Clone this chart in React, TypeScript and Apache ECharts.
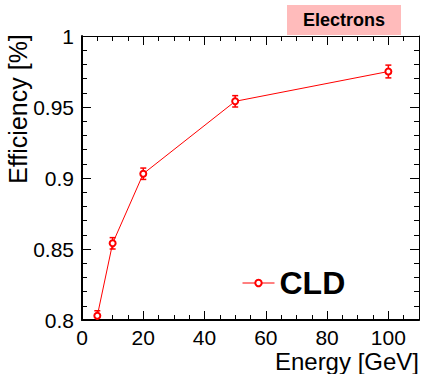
import React, { useEffect, useRef } from "react";
import * as echarts from "echarts";

const energies = [5, 10, 20, 50, 100];
const efficiency = [0.803, 0.854, 0.903, 0.954, 0.975];
const errors = [0.0035, 0.004, 0.004, 0.004, 0.0045];
const seriesName = "CLD";
const panelLabel = "Electrons";
const xTitle = "Energy [GeV]";
const yTitle = "Efficiency [%]";

const FONT = "'Liberation Sans', Arial, Helvetica, sans-serif";
const RED = "#ff0000";

export default function App() {
  const ref = useRef<HTMLDivElement>(null);
  useEffect(() => {
    if (!ref.current) return;
    const chart = echarts.init(ref.current, undefined, { renderer: "svg" });
    const pts = energies.map((e, i) => [e, efficiency[i]]);
    const errData = energies.map((e, i) => [e, efficiency[i], errors[i]]);
    const axisCommon = {
      type: "value" as const,
      splitLine: { show: false },
      axisLine: { show: true, onZero: false, lineStyle: { color: "#000", width: 2 } },
      axisTick: { show: true, inside: true, length: 9, lineStyle: { color: "#000", width: 1 } },
      minorTick: { show: true, length: 5, lineStyle: { color: "#000", width: 1 } },
    };
    chart.setOption({
      animation: false,
      backgroundColor: "#fff",
      grid: { left: 82, top: 36, right: 4, bottom: 54, containLabel: false },
      xAxis: [
        {
          ...axisCommon,
          position: "bottom",
          min: 0,
          max: 110,
          interval: 20,
          minorTick: { ...axisCommon.minorTick, splitNumber: 4 },
          axisLabel: {
            show: true,
            fontSize: 21,
            color: "#000",
            fontFamily: FONT,
            margin: 7,
            formatter: (v: number) => (v > 100 ? "" : String(v)),
          },
        },
        {
          ...axisCommon,
          position: "top",
          min: 0,
          max: 110,
          interval: 20,
          axisLine: { show: true, onZero: false, lineStyle: { color: "#000", width: 1 } },
          minorTick: { ...axisCommon.minorTick, splitNumber: 4 },
          axisLabel: { show: false },
        },
      ],
      yAxis: [
        {
          ...axisCommon,
          position: "left",
          min: 0.8,
          max: 1,
          interval: 0.05,
          minorTick: { ...axisCommon.minorTick, splitNumber: 5 },
          axisLabel: {
            show: true,
            fontSize: 21,
            color: "#000",
            fontFamily: FONT,
            margin: 8,
            formatter: (v: number) => String(parseFloat(v.toFixed(2))),
          },
        },
        {
          ...axisCommon,
          position: "right",
          min: 0.8,
          max: 1,
          interval: 0.05,
          axisLine: { show: true, onZero: false, lineStyle: { color: "#000", width: 1 } },
          minorTick: { ...axisCommon.minorTick, splitNumber: 5 },
          axisLabel: { show: false },
        },
      ],
      legend: {
        data: [seriesName],
        left: 237,
        top: 262,
        itemWidth: 32,
        itemHeight: 8,
        itemGap: 10,
        itemStyle: { borderWidth: 1, color: RED, borderColor: RED },
        lineStyle: { width: 1, color: RED },
        textStyle: { fontSize: 32, fontWeight: "bold", color: "#000", fontFamily: FONT },
      },
      series: [
        {
          type: "custom",
          name: "errors",
          xAxisIndex: 0,
          yAxisIndex: 0,
          clip: true,
          z: 2,
          data: errData,
          renderItem: (params: any, api: any) => {
            const x = api.value(0);
            const y = api.value(1);
            const e = api.value(2);
            const top = api.coord([x, y + e]);
            const bot = api.coord([x, y - e]);
            const cap = 3;
            const style = { stroke: RED, lineWidth: 1.5 };
            return {
              type: "group",
              children: [
                { type: "line", shape: { x1: top[0], y1: top[1], x2: bot[0], y2: bot[1] }, style },
                { type: "line", shape: { x1: top[0] - cap, y1: top[1], x2: top[0] + cap, y2: top[1] }, style },
                { type: "line", shape: { x1: bot[0] - cap, y1: bot[1], x2: bot[0] + cap, y2: bot[1] }, style },
              ],
            };
          },
        },
        {
          type: "line",
          name: seriesName,
          xAxisIndex: 0,
          yAxisIndex: 0,
          data: pts,
          z: 3,
          clip: true,
          symbol: "emptyCircle",
          symbolSize: 6,
          showAllSymbol: true,
          lineStyle: { color: RED, width: 1 },
          itemStyle: { color: RED, borderColor: RED, borderWidth: 1 },
        },
      ],
      graphic: [
        {
          type: "rect",
          shape: { x: 287, y: 5, width: 114, height: 30 },
          style: { fill: "#ffbbbb" },
          z: 10,
        },
        {
          type: "text",
          x: 344,
          y: 20,
          z: 11,
          style: {
            text: panelLabel,
            fontSize: 18,
            fontWeight: "bold",
            fontFamily: FONT,
            fill: "#000",
            align: "center",
            verticalAlign: "middle",
          },
        },
        {
          type: "text",
          x: 419,
          y: 361,
          style: {
            text: xTitle,
            fontSize: 24,
            fontFamily: FONT,
            fill: "#000",
            align: "right",
            verticalAlign: "middle",
          },
        },
        {
          type: "text",
          x: 18,
          y: 109,
          rotation: Math.PI / 2,
          style: {
            text: yTitle,
            fontSize: 25,
            fontFamily: FONT,
            fill: "#000",
            align: "center",
            verticalAlign: "middle",
          },
        },
      ],
    });
    return () => chart.dispose();
  }, []);
  return <div ref={ref} style={{ width: 423, height: 374, position: "absolute", left: 0, top: 0 }} />;
}
